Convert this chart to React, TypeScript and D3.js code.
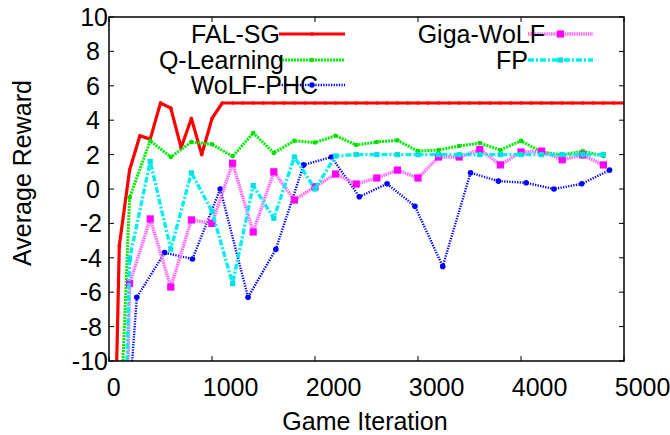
import React from "react";
import * as d3 from "d3";

// values (x = game iteration, y = average reward)
const falX = [75, 100, 200, 300, 400, 500, 600, 700, 800, 900, 1000, 1100, 1200, 1300, 1400, 1500, 1600, 1700, 1800, 1900, 2000, 2100, 2200, 2300, 2400, 2500, 2600, 2700, 2800, 2900, 3000, 3100, 3200, 3300, 3400, 3500, 3600, 3700, 3800, 3900, 4000, 4100, 4200, 4300, 4400, 4500, 4600, 4700, 4800, 4900, 5000];
const falY = [-10, -3.3, 1.1, 3.1, 2.9, 5.0, 4.7, 2.4, 4.1, 2.0, 4.1, 5, 5, 5, 5, 5, 5, 5, 5, 5, 5, 5, 5, 5, 5, 5, 5, 5, 5, 5, 5, 5, 5, 5, 5, 5, 5, 5, 5, 5, 5, 5, 5, 5, 5, 5, 5, 5, 5, 5, 5];

const qX = [136, 200, 400, 600, 800, 1000, 1200, 1400, 1600, 1800, 2000, 2200, 2400, 2600, 2800, 3000, 3200, 3400, 3600, 3800, 4000, 4200, 4400, 4600, 4800];
const qY = [-10, -0.5, 2.8, 1.86, 2.73, 2.6, 1.9, 3.26, 2.1, 2.8, 2.7, 3.1, 2.56, 2.73, 2.83, 2.2, 2.27, 2.5, 2.67, 2.27, 2.8, 2.15, 1.98, 2.2, 1.92];

const wolfX = [225, 270, 540, 810, 1080, 1350, 1620, 1890, 2160, 2430, 2700, 2970, 3240, 3510, 3780, 4050, 4320, 4590, 4860];
const wolfY = [-10, -6.3, -3.7, -4.07, 0.0, -6.3, -3.5, 1.4, 1.86, -0.45, 0.3, -1.0, -4.5, 0.94, 0.46, 0.36, 0.0, 0.3, 1.1];

const gigaX = [185, 200, 400, 600, 800, 1000, 1200, 1400, 1600, 1800, 2000, 2200, 2400, 2600, 2800, 3000, 3200, 3400, 3600, 3800, 4000, 4200, 4400, 4600, 4800];
const gigaY = [-10, -5.5, -1.74, -5.7, -1.8, -2.0, 1.5, -2.5, 1.0, -0.64, 0.13, 0.87, 0.29, 0.64, 1.1, 0.64, 1.86, 1.86, 2.3, 1.4, 2.15, 2.2, 1.7, 1.98, 1.4];

const fpX = [175, 200, 400, 600, 800, 1000, 1200, 1400, 1600, 1800, 2000, 2200, 2400, 2600, 2800, 3000, 3200, 3400, 3600, 3800, 4000, 4200, 4400, 4600, 4800];
const fpY = [-10, -4.07, 1.6, -3.5, 0.94, -1.3, -5.5, 0.2, -1.7, 1.86, 0.0, 1.92, 2, 2, 2, 2, 2, 2, 2, 2, 2, 2, 2, 2, 2];

const xTicks = [0, 1000, 2000, 3000, 4000, 5000];
const yTicks = [-10, -8, -6, -4, -2, 0, 2, 4, 6, 8, 10];

const series = [
  { name: "FAL-SG", xs: falX, ys: falY, color: "#ff0000", width: 3.2, dash: "none", marker: "dot", col: 0, row: 0 },
  { name: "Q-Learning", xs: qX, ys: qY, color: "#00ee00", width: 3, dash: "2,1", marker: "smallcircle", col: 0, row: 1 },
  { name: "WoLF-PHC", xs: wolfX, ys: wolfY, color: "#0000ff", width: 2.4, dash: "1.3,1.3", marker: "circle", col: 0, row: 2 },
  { name: "Giga-WoLF", xs: gigaX, ys: gigaY, color: "#ff66ff", width: 3.4, dash: "1.5,0.8", marker: "square", col: 1, row: 0 },
  { name: "FP", xs: fpX, ys: fpY, color: "#00f0f0", width: 3.4, dash: "6,2,2,2", marker: "smallsquare", col: 1, row: 1 },
];

const FONT = "'Liberation Sans', Arial, sans-serif";
const FS = 25;

const left = 109, right = 624, top = 17, bottom = 361;

function Marker({ kind, cx, cy }: { kind: string; cx: number; cy: number }) {
  if (kind === "dot") return <circle cx={cx} cy={cy} r={1.8} fill="#ff0000" />;
  if (kind === "smallcircle") return <circle cx={cx} cy={cy} r={2.3} fill="#00dd00" />;
  if (kind === "circle") return <circle cx={cx} cy={cy} r={2.8} fill="#0000ff" />;
  if (kind === "square") return <rect x={cx - 3.6} y={cy - 3.6} width={7.2} height={7.2} fill="#ff00ff" />;
  return <rect x={cx - 2.6} y={cy - 2.6} width={5.2} height={5.2} fill="#00e0e0" />;
}

export default function App() {
  const x = d3.scaleLinear().domain([0, 5000]).range([left, right]);
  const y = d3.scaleLinear().domain([-10, 10]).range([bottom, top]);

  const legendLineX = [[279, 345], [528, 593]];
  const legendTextEnd = [[280, 284, 318], [545, 528]];
  const legendRowY = [34, 60, 85];

  return (
    <svg width={670} height={435} style={{ position: "absolute", left: 0, top: 0, background: "#fff" }}>
      <defs>
        <clipPath id="plotclip">
          <rect x={left} y={top} width={right - left} height={bottom - top} />
        </clipPath>
      </defs>
      <rect width={670} height={435} fill="#fff" />

      <g clipPath="url(#plotclip)">
        {series.map((s) => {
          const pts = s.xs.map((v, i) => [x(v), y(s.ys[i])] as [number, number]);
          const path = d3.line()(pts) || "";
          return (
            <g key={s.name}>
              <path d={path} fill="none" stroke={s.color} strokeWidth={s.width} strokeDasharray={s.dash} strokeLinejoin="round" />
              {s.xs.map((v, i) =>
                s.ys[i] > -10 ? <Marker key={i} kind={s.marker} cx={x(v)} cy={y(s.ys[i])} /> : null
              )}
            </g>
          );
        })}
      </g>

      {/* frame and ticks */}
      <rect x={left} y={top} width={right - left} height={bottom - top} fill="none" stroke="#000" strokeWidth={1.5} />
      {xTicks.map((t) => (
        <g key={"xt" + t}>
          <line x1={x(t)} x2={x(t)} y1={bottom} y2={bottom - 5} stroke="#000" strokeWidth={1} />
          <line x1={x(t)} x2={x(t)} y1={top} y2={top + 5} stroke="#000" strokeWidth={1} />
          <text x={x(t) - String(t).length * 2.3} y={396} fontFamily={FONT} fontSize={FS} fill="#000">
            {t}
          </text>
        </g>
      ))}
      {yTicks.map((t) => {
        const label = String(t);
        const end = label.replace("-", "").length === 2 ? 108 : label.startsWith("-") ? 102 : 100;
        return (
          <g key={"yt" + t}>
            <line x1={left} x2={left + 5} y1={y(t)} y2={y(t)} stroke="#000" strokeWidth={1} />
            <line x1={right} x2={right - 5} y1={y(t)} y2={y(t)} stroke="#000" strokeWidth={1} />
            <text x={end} y={y(t) + 9} textAnchor="end" fontFamily={FONT} fontSize={FS} fill="#000">
              {label}
            </text>
          </g>
        );
      })}

      {/* axis titles */}
      <text x={365} y={430} textAnchor="middle" fontFamily={FONT} fontSize={FS} fill="#000">
        Game Iteration
      </text>
      <text transform="translate(31,173) rotate(-90)" textAnchor="middle" fontFamily={FONT} fontSize={FS} fill="#000">
        Average Reward
      </text>

      {/* legend */}
      {series.map((s) => {
        const ly = legendRowY[s.row];
        const [lx1, lx2] = legendLineX[s.col];
        return (
          <g key={"lg" + s.name}>
            <line x1={lx1} x2={lx2} y1={ly} y2={ly} stroke={s.color} strokeWidth={s.width} strokeDasharray={s.dash} />
            <Marker kind={s.marker} cx={(lx1 + lx2) / 2} cy={ly} />
            <text x={legendTextEnd[s.col][s.row]} y={ly + 9} textAnchor="end" fontFamily={FONT} fontSize={FS} fill="#000">
              {s.name}
            </text>
          </g>
        );
      })}
    </svg>
  );
}
